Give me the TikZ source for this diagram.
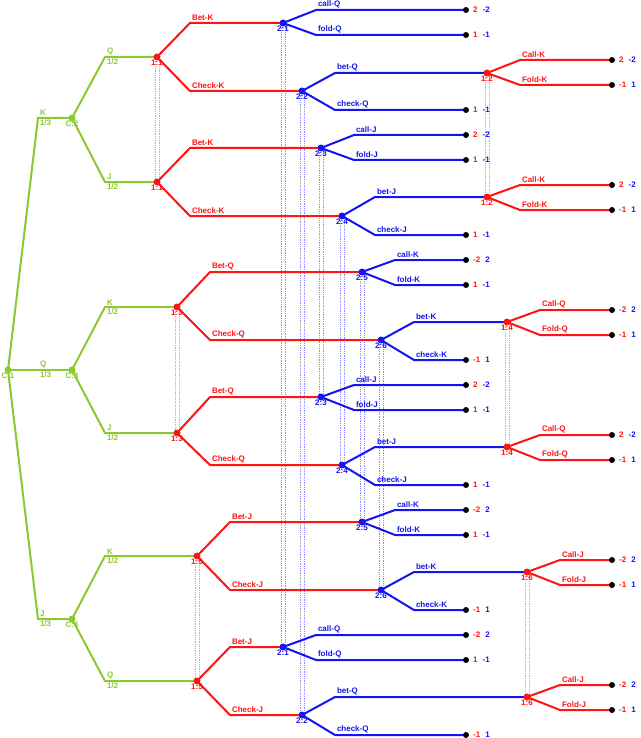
\documentclass[tikz,border=0pt]{standalone}
\usepackage{fontspec}
\setmainfont{Liberation Sans}
\usetikzlibrary{calc,backgrounds}
\definecolor{gr}{RGB}{140,200,50}
\definecolor{rd}{RGB}{255,20,20}
\definecolor{bl}{RGB}{20,20,240}
\definecolor{rdi}{RGB}{255,150,150}
\definecolor{bli}{RGB}{140,140,255}
\tikzset{
  lbl/.style={font=\fontsize{8}{9}\selectfont\bfseries,inner sep=1pt},
  dot/.style={circle,fill=#1,inner sep=0pt,minimum size=7pt},
  br/.style={line width=2pt,#1},
  info/.style={densely dotted,line width=0.8pt,draw=#1},
}
\newcommand\dn[5]{\node[dot=#4] (#1) at (#2,#3) {};
  \node[lbl,text=#4,below=2pt] at (#1) {#5};}
\newcommand\term[5]{\node[dot=black,minimum size=6pt] (#1) at (#2,#3) {};
  \node[lbl,right=6pt] at (#1) {\textcolor{rd}{#4}\hspace{5pt}\textcolor{bl}{#5}};}
\newcommand\brr[4]{\draw[br=#3] (#1.center) -- ($(#1.center|-#2.center)+(33,0)$) node[lbl,text=#3,anchor=south west]{#4} -- (#2.center);}
\newcommand\cbr[5]{\draw[br=gr] (#1.center) -- ($(#1.center|-#2.center)+(#5,0)$) node[lbl,text=gr,anchor=south west]{#3} node[lbl,text=gr,anchor=north west]{#4} -- (#2.center);}
\newcommand\infoline[3]{\draw[info=#3] ([xshift=-2pt]#1.center) -- ([xshift=-2pt]#2.center);
  \draw[info=#3] ([xshift=2pt]#1.center) -- ([xshift=2pt]#2.center);}
\begin{document}
\begin{tikzpicture}[x=1pt,y=-1pt]
\useasboundingbox (0,0) rectangle (640,738);
% chance nodes
\node[dot=gr] (c1) at (8,370) {}; \node[lbl,text=gr,below=2pt] at (c1) {C:1};
\node[dot=gr] (c2) at (72,118) {}; \node[lbl,text=gr,below=2pt] at (c2) {C:2};
\node[dot=gr] (c3) at (72,370) {}; \node[lbl,text=gr,below=2pt] at (c3) {C:3};
\node[dot=gr] (c4) at (72,619) {}; \node[lbl,text=gr,below=2pt] at (c4) {C:4};
% P1 first nodes
\dn{r1}{157}{57}{rd}{1:1}
\dn{r2}{157}{182}{rd}{1:1}
\dn{r3}{177}{307}{rd}{1:3}
\dn{r4}{177}{433}{rd}{1:3}
\dn{r5}{197}{556}{rd}{1:5}
\dn{r6}{197}{681}{rd}{1:5}
% P2 nodes
\dn{a1}{283}{23}{bl}{2:1}
\dn{a2}{302}{91}{bl}{2:2}
\dn{a3}{321}{148}{bl}{2:3}
\dn{a4}{342}{216}{bl}{2:4}
\dn{a5}{362}{272}{bl}{2:5}
\dn{a6}{381}{340}{bl}{2:6}
\dn{a7}{321}{397}{bl}{2:3}
\dn{a8}{342}{465}{bl}{2:4}
\dn{a9}{362}{522}{bl}{2:5}
\dn{a10}{381}{590}{bl}{2:6}
\dn{a11}{283}{647}{bl}{2:1}
\dn{a12}{302}{715}{bl}{2:2}
% P1 second nodes
\dn{s1}{487}{73}{rd}{1:2}
\dn{s2}{487}{197}{rd}{1:2}
\dn{s3}{507}{322}{rd}{1:4}
\dn{s4}{507}{447}{rd}{1:4}
\dn{s5}{527}{572}{rd}{1:6}
\dn{s6}{527}{697}{rd}{1:6}
% terminals
\term{t1}{466}{10}{2}{-2}
\term{t2}{466}{35}{1}{-1}
\term{t3}{612}{60}{2}{-2}
\term{t4}{612}{85}{-1}{1}
\term{t5}{466}{110}{1}{-1}
\term{t6}{466}{135}{2}{-2}
\term{t7}{466}{160}{1}{-1}
\term{t8}{612}{185}{2}{-2}
\term{t9}{612}{210}{-1}{1}
\term{t10}{466}{235}{1}{-1}
\term{t11}{466}{260}{-2}{2}
\term{t12}{466}{285}{1}{-1}
\term{t13}{612}{310}{-2}{2}
\term{t14}{612}{335}{-1}{1}
\term{t15}{466}{360}{-1}{1}
\term{t16}{466}{385}{2}{-2}
\term{t17}{466}{410}{1}{-1}
\term{t18}{612}{435}{2}{-2}
\term{t19}{612}{460}{-1}{1}
\term{t20}{466}{485}{1}{-1}
\term{t21}{466}{510}{-2}{2}
\term{t22}{466}{535}{1}{-1}
\term{t23}{612}{560}{-2}{2}
\term{t24}{612}{585}{-1}{1}
\term{t25}{466}{610}{-1}{1}
\term{t26}{466}{635}{-2}{2}
\term{t27}{466}{660}{1}{-1}
\term{t28}{612}{685}{-2}{2}
\term{t29}{612}{710}{-1}{1}
\term{t30}{466}{735}{-1}{1}
\begin{scope}[on background layer]
% info sets
\infoline{r1}{r2}{rdi}\infoline{r3}{r4}{rdi}\infoline{r5}{r6}{rdi}
\infoline{s1}{s2}{rdi}\infoline{s3}{s4}{rdi}\infoline{s5}{s6}{rdi}
\infoline{a1}{a11}{bli}\infoline{a2}{a12}{bli}\infoline{a3}{a7}{bli}
\infoline{a4}{a8}{bli}\infoline{a5}{a9}{bli}\infoline{a6}{a10}{bli}
% chance branches
\cbr{c1}{c2}{K}{1/3}{30}
\cbr{c1}{c3}{Q}{1/3}{30}
\cbr{c1}{c4}{J}{1/3}{30}
\cbr{c2}{r1}{Q}{1/2}{33}
\cbr{c2}{r2}{J}{1/2}{33}
\cbr{c3}{r3}{K}{1/2}{33}
\cbr{c3}{r4}{J}{1/2}{33}
\cbr{c4}{r5}{K}{1/2}{33}
\cbr{c4}{r6}{Q}{1/2}{33}
% P1 first branches
\brr{r1}{a1}{rd}{Bet-K}\brr{r1}{a2}{rd}{Check-K}
\brr{r2}{a3}{rd}{Bet-K}\brr{r2}{a4}{rd}{Check-K}
\brr{r3}{a5}{rd}{Bet-Q}\brr{r3}{a6}{rd}{Check-Q}
\brr{r4}{a7}{rd}{Bet-Q}\brr{r4}{a8}{rd}{Check-Q}
\brr{r5}{a9}{rd}{Bet-J}\brr{r5}{a10}{rd}{Check-J}
\brr{r6}{a11}{rd}{Bet-J}\brr{r6}{a12}{rd}{Check-J}
% P2 branches
\brr{a1}{t1}{bl}{call-Q}\brr{a1}{t2}{bl}{fold-Q}
\brr{a2}{s1}{bl}{bet-Q}\brr{a2}{t5}{bl}{check-Q}
\brr{a3}{t6}{bl}{call-J}\brr{a3}{t7}{bl}{fold-J}
\brr{a4}{s2}{bl}{bet-J}\brr{a4}{t10}{bl}{check-J}
\brr{a5}{t11}{bl}{call-K}\brr{a5}{t12}{bl}{fold-K}
\brr{a6}{s3}{bl}{bet-K}\brr{a6}{t15}{bl}{check-K}
\brr{a7}{t16}{bl}{call-J}\brr{a7}{t17}{bl}{fold-J}
\brr{a8}{s4}{bl}{bet-J}\brr{a8}{t20}{bl}{check-J}
\brr{a9}{t21}{bl}{call-K}\brr{a9}{t22}{bl}{fold-K}
\brr{a10}{s5}{bl}{bet-K}\brr{a10}{t25}{bl}{check-K}
\brr{a11}{t26}{bl}{call-Q}\brr{a11}{t27}{bl}{fold-Q}
\brr{a12}{s6}{bl}{bet-Q}\brr{a12}{t30}{bl}{check-Q}
% P1 second branches
\brr{s1}{t3}{rd}{Call-K}\brr{s1}{t4}{rd}{Fold-K}
\brr{s2}{t8}{rd}{Call-K}\brr{s2}{t9}{rd}{Fold-K}
\brr{s3}{t13}{rd}{Call-Q}\brr{s3}{t14}{rd}{Fold-Q}
\brr{s4}{t18}{rd}{Call-Q}\brr{s4}{t19}{rd}{Fold-Q}
\brr{s5}{t23}{rd}{Call-J}\brr{s5}{t24}{rd}{Fold-J}
\brr{s6}{t28}{rd}{Call-J}\brr{s6}{t29}{rd}{Fold-J}
\end{scope}
\end{tikzpicture}
\end{document}
